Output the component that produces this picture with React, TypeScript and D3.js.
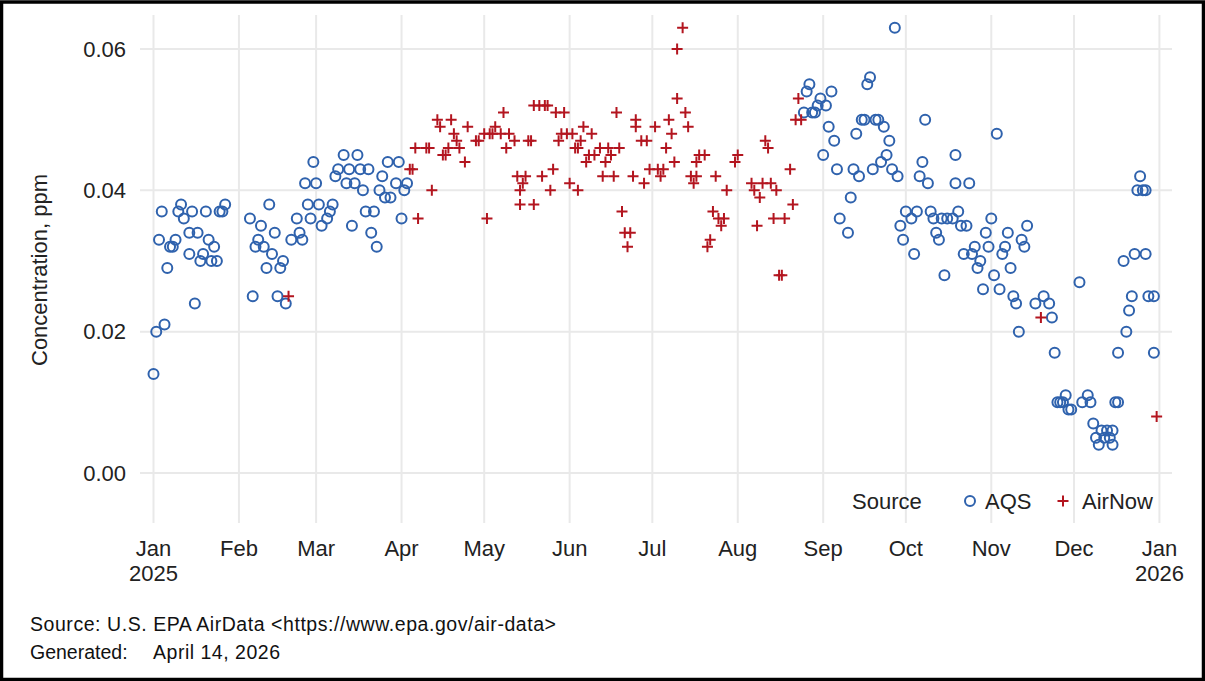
import React from "react";
import * as d3 from "d3";

// ---- Data (day offset from 2025-01-01, concentration ppm) ----
const aqsDays = [
  0, 1, 2, 3, 4, 5, 6, 7, 8, 9, 10, 11, 13, 13, 14, 15, 16, 17, 18, 19, 20, 21, 22, 23, 24, 25, 26,
  35, 36, 37, 38, 39, 40, 41, 42, 43, 44, 45, 46, 47, 48, 50, 52, 53, 54, 55, 56, 57, 58, 59, 60, 61,
  63, 64, 65, 66, 67, 69, 70, 71, 72, 73, 74, 75, 76, 77, 78, 79, 80, 81, 82, 83, 84, 85, 86, 88, 89,
  90, 91, 92,
  236, 237, 238, 239, 240, 241, 242, 243, 244, 245, 246, 247, 248, 249, 252, 253, 254, 255, 256, 257,
  258, 259, 260, 261, 262, 263, 264, 265, 266, 267, 268, 269, 270, 271, 272, 273, 275, 276, 277, 278,
  279, 280, 281, 282, 283, 284, 285, 286, 287, 288, 290, 291, 291, 292, 293, 294, 295, 296, 297, 298,
  299, 300, 301, 302, 303, 304, 305, 306, 307, 308, 309, 310, 311, 312, 313, 314, 315, 316, 317, 320,
  323, 325, 326, 327, 328, 329, 330, 331, 332, 333, 336, 337, 339, 340, 341, 342, 343, 344, 345, 346,
  347, 348, 348, 349, 350, 350, 352, 353, 354, 355, 356, 357, 358, 359, 360, 360, 361, 363, 363,
];
const aqsValues = [
  0.014, 0.020, 0.033, 0.037, 0.021, 0.029, 0.032, 0.032, 0.033, 0.037, 0.038, 0.036, 0.034, 0.031, 0.037, 0.024, 0.034, 0.030, 0.031, 0.037, 0.033, 0.030, 0.032, 0.030, 0.037, 0.037, 0.038,
  0.036, 0.025, 0.032, 0.033, 0.035, 0.032, 0.029, 0.038, 0.031, 0.034, 0.025, 0.029, 0.030, 0.024, 0.033, 0.036, 0.034, 0.033, 0.041, 0.038, 0.036, 0.044, 0.041, 0.038, 0.035,
  0.036, 0.037, 0.038, 0.042, 0.043, 0.045, 0.041, 0.043, 0.035, 0.041, 0.045, 0.043, 0.040, 0.037, 0.043, 0.034, 0.037, 0.032, 0.040, 0.042, 0.039, 0.044, 0.039, 0.041, 0.044,
  0.036, 0.040, 0.041,
  0.051, 0.054, 0.055, 0.051, 0.051, 0.052, 0.053, 0.045, 0.052, 0.049, 0.054, 0.047, 0.043, 0.036, 0.034, 0.039, 0.043, 0.048, 0.042, 0.050,
  0.050, 0.055, 0.056, 0.043, 0.050, 0.050, 0.044, 0.049, 0.045, 0.047, 0.043, 0.063, 0.042, 0.035, 0.033, 0.037, 0.036, 0.031, 0.037, 0.042,
  0.044, 0.050, 0.041, 0.037, 0.036, 0.034, 0.033, 0.036, 0.028, 0.036, 0.036, 0.041, 0.045, 0.037, 0.035, 0.031, 0.035, 0.041, 0.031, 0.032,
  0.029, 0.030, 0.026, 0.034, 0.032, 0.036, 0.028, 0.048, 0.026, 0.031, 0.032, 0.034, 0.029, 0.025, 0.024, 0.020, 0.033, 0.032, 0.035, 0.024,
  0.025, 0.024, 0.022, 0.017, 0.010, 0.010, 0.010, 0.011, 0.009, 0.009, 0.027, 0.010, 0.011, 0.010, 0.007, 0.005, 0.004, 0.006, 0.005, 0.006,
  0.005, 0.006, 0.004, 0.010, 0.010, 0.017, 0.030, 0.020, 0.023, 0.025, 0.031, 0.040, 0.042, 0.040, 0.040, 0.031, 0.025, 0.025, 0.017,
];

const airNowDays = [
  49, 93, 94, 95, 96, 99, 100, 101, 103, 104, 105, 106, 107, 108, 109, 110, 111, 113, 114, 117, 118, 120,
  121, 122, 123, 124, 126, 127, 128, 129, 131, 132, 133, 133, 134, 135, 136, 137, 138, 138, 140, 141, 142,
  143, 144, 145, 146, 147, 148, 149, 150, 151, 152, 153, 154, 154, 155, 156, 157, 158, 159, 160, 162, 163,
  164, 165, 166, 167, 168, 169, 170, 171, 172, 173, 174, 175, 175, 177, 178, 179, 180, 182, 183, 184, 185,
  186, 187, 188, 189, 190, 190, 192, 193, 194, 195, 196, 197, 197, 198, 200, 201, 202, 203, 204, 205, 206,
  207, 208, 211, 212, 217, 218, 219, 220, 221, 222, 223, 224, 225, 226, 227, 228, 229, 231, 232, 233, 234,
  235, 322, 364,
];
const airNowValues = [
  0.025, 0.043, 0.043, 0.046, 0.036, 0.046, 0.046, 0.040, 0.050, 0.049, 0.045, 0.045, 0.046, 0.050, 0.048, 0.047, 0.046, 0.044, 0.049, 0.047, 0.047, 0.048,
  0.036, 0.048, 0.048, 0.049, 0.048, 0.051, 0.046, 0.048, 0.047, 0.042, 0.038, 0.040, 0.041, 0.042, 0.047, 0.047, 0.038, 0.052, 0.052, 0.042, 0.052,
  0.052, 0.040, 0.043, 0.051, 0.047, 0.048, 0.051, 0.048, 0.041, 0.048, 0.046, 0.046, 0.040, 0.047, 0.049, 0.044, 0.045, 0.048, 0.045, 0.046, 0.042,
  0.044, 0.046, 0.045, 0.042, 0.051, 0.046, 0.037, 0.034, 0.032, 0.034, 0.042, 0.050, 0.049, 0.047, 0.041, 0.047, 0.043, 0.049, 0.043, 0.042, 0.043,
  0.046, 0.050, 0.048, 0.044, 0.060, 0.053, 0.063, 0.051, 0.049, 0.042, 0.041, 0.044, 0.042, 0.045, 0.045, 0.032, 0.033, 0.037, 0.042, 0.036, 0.035,
  0.036, 0.040, 0.044, 0.045, 0.041, 0.040, 0.035, 0.039, 0.041, 0.047, 0.046, 0.041, 0.036, 0.040, 0.028, 0.028, 0.036, 0.043, 0.038, 0.050, 0.053,
  0.050, 0.022, 0.008,
];

const monthLabels = ["Jan", "Feb", "Mar", "Apr", "May", "Jun", "Jul", "Aug", "Sep", "Oct", "Nov", "Dec", "Jan"];
const yTicks = [0, 0.02, 0.04, 0.06];
const legendTitle = "Source";
const seriesNames = ["AQS", "AirNow"];
const yTitle = "Concentration, ppm";
const footerSource = "Source: U.S. EPA AirData <https://www.epa.gov/air-data>";
const footerGenLabel = "Generated:";
const footerGenDate = "April 14, 2026";

const W = 1205;
const H = 681;
const panel = { left: 140, right: 1172, top: 15, bottom: 523 };
const BLUE = "#2f62ad";
const RED = "#b3151f";
const GRID = "#e9e9e9";
const FONT = "'Liberation Sans', Arial, sans-serif";
const TXT = "#222";

const day0 = Date.UTC(2025, 0, 1);
const toDate = (d: number) => new Date(day0 + d * 864e5);

export default function App() {
  const x = d3
    .scaleUtc()
    .domain([new Date(Date.UTC(2025, 0, 1)), new Date(Date.UTC(2026, 0, 1))])
    .range([153.5, 1159.4]);
  const y = d3.scaleLinear().domain([0, 0.06]).range([473, 49]);
  const monthTicks = d3.utcMonth.range(new Date(Date.UTC(2025, 0, 1)), new Date(Date.UTC(2026, 0, 2)));

  const aqs = aqsDays.map((d, i) => ({ date: toDate(d), v: aqsValues[i] }));
  const air = airNowDays.map((d, i) => ({ date: toDate(d), v: airNowValues[i] }));
  const plusPath = "M-5.5,0H5.5M0,-5.5V5.5";

  return (
    <svg
      width={W}
      height={H}
      style={{ position: "absolute", left: 0, top: 0, background: "#fff" }}
      fontFamily={FONT}
    >
      <rect x={0} y={0} width={W} height={H} fill="#fff" />
      {/* grid */}
      {yTicks.map((t) => (
        <line key={"gy" + t} x1={panel.left} x2={panel.right} y1={y(t)} y2={y(t)} stroke={GRID} strokeWidth={2} />
      ))}
      {monthTicks.map((t, i) => (
        <line key={"gx" + i} x1={x(t)} x2={x(t)} y1={panel.top} y2={panel.bottom} stroke={GRID} strokeWidth={2} />
      ))}
      {/* y tick labels */}
      {yTicks.map((t) => (
        <text key={"ty" + t} x={126} y={y(t)} dy="0.35em" textAnchor="end" fontSize={22} fill={TXT}>
          {d3.format(".2f")(t)}
        </text>
      ))}
      {/* x tick labels */}
      {monthTicks.map((t, i) => (
        <text key={"tx" + i} x={x(t)} y={556} textAnchor="middle" fontSize={22} fill={TXT}>
          {monthLabels[i]}
        </text>
      ))}
      <text x={x(monthTicks[0])} y={581} textAnchor="middle" fontSize={22} fill={TXT}>
        {monthTicks[0].getUTCFullYear()}
      </text>
      <text x={x(monthTicks[12])} y={581} textAnchor="middle" fontSize={22} fill={TXT}>
        {monthTicks[12].getUTCFullYear()}
      </text>
      {/* y title */}
      <text transform={`translate(47,270) rotate(-90)`} textAnchor="middle" fontSize={22} fill={TXT}>
        {yTitle}
      </text>
      {/* points */}
      <g>
        {aqs.map((p, i) => (
          <circle key={"a" + i} cx={x(p.date)} cy={y(p.v)} r={5} fill="none" stroke={BLUE} strokeWidth={2} />
        ))}
      </g>
      <g>
        {air.map((p, i) => (
          <path key={"n" + i} d={plusPath} transform={`translate(${x(p.date)},${y(p.v)})`} stroke={RED} strokeWidth={2} fill="none" />
        ))}
      </g>
      {/* legend */}
      <g>
        <text x={852} y={509} fontSize={22} fill={TXT}>{legendTitle}</text>
        <circle cx={970} cy={501} r={5} fill="none" stroke={BLUE} strokeWidth={2} />
        <text x={985} y={509} fontSize={22} fill={TXT}>{seriesNames[0]}</text>
        <path d={plusPath} transform="translate(1063,501)" stroke={RED} strokeWidth={2} fill="none" />
        <text x={1082} y={509} fontSize={22} fill={TXT}>{seriesNames[1]}</text>
      </g>
      {/* footer */}
      <text x={30} y={631} fontSize={19.5} fill="#111" textLength={526} lengthAdjust="spacing">{footerSource}</text>
      <text x={30} y={659} fontSize={19.5} fill="#111">{footerGenLabel}</text>
      <text x={153} y={659} fontSize={19.5} fill="#111" textLength={127} lengthAdjust="spacing">{footerGenDate}</text>
      {/* frame */}
      <rect x={1.5} y={2} width={W - 3} height={H - 3.5} fill="none" stroke="#000" strokeWidth={3.5} />
    </svg>
  );
}
